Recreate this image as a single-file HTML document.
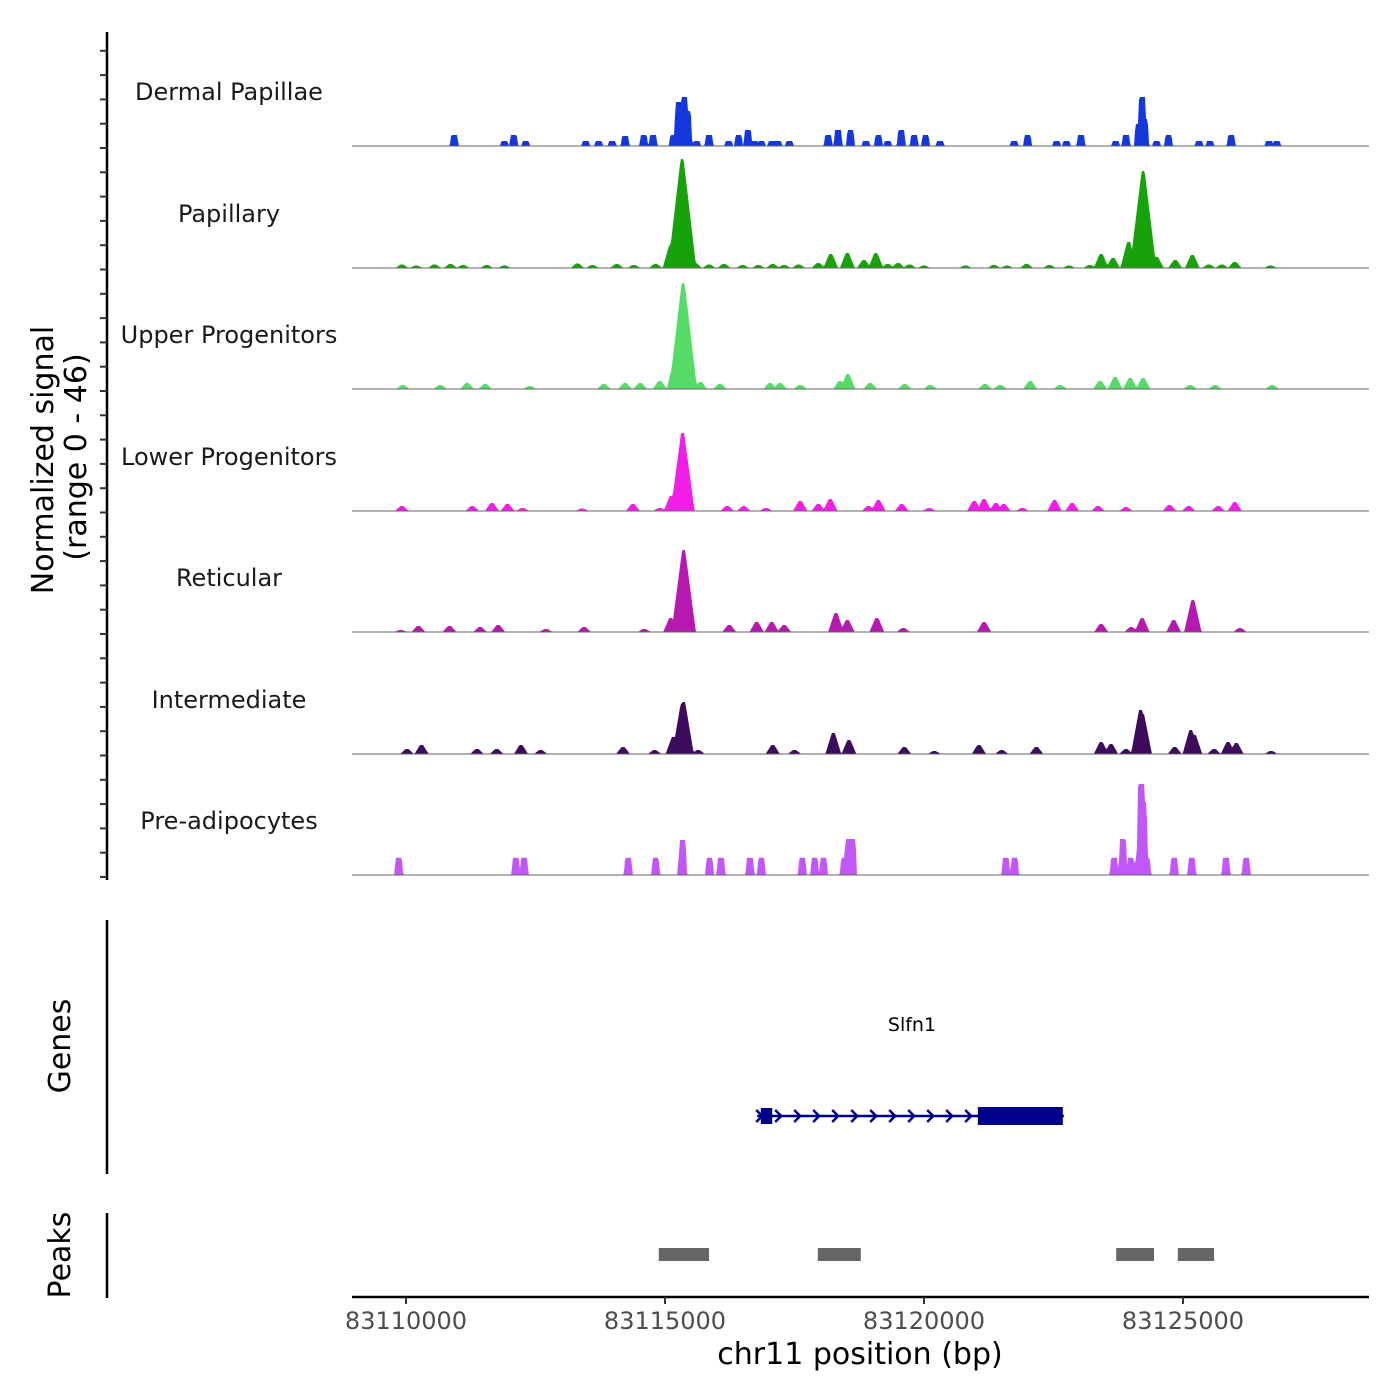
<!DOCTYPE html>
<html><head><meta charset="utf-8"><style>
html,body{margin:0;padding:0;background:#fff}
svg{display:block;font-family:"DejaVu Sans","Liberation Sans",sans-serif}
</style></head><body>
<svg id="chart" width="1400" height="1400" viewBox="0 0 1400 1400" xmlns="http://www.w3.org/2000/svg">
<rect width="1400" height="1400" fill="#fff"/>
<g id="tracks"></g>
<g id="leftaxis"></g>
<text transform="translate(53,460) rotate(-90)" text-anchor="middle" font-size="30" fill="#000">Normalized signal</text>
<text transform="translate(86,457) rotate(-90)" text-anchor="middle" font-size="30" fill="#000">(range 0 - 46)</text>
<line x1="107" y1="920" x2="107" y2="1174" stroke="#000" stroke-width="2.5"/>
<text transform="translate(70,1046) rotate(-90)" text-anchor="middle" font-size="30">Genes</text>
<line x1="107" y1="1213" x2="107" y2="1298" stroke="#000" stroke-width="2.5"/>
<text transform="translate(70,1255) rotate(-90)" text-anchor="middle" font-size="30">Peaks</text>
<g id="genes"></g>
<g id="peaks"></g>
<g id="xaxis"></g>
<text x="860" y="1364" text-anchor="middle" font-size="30" fill="#000">chr11 position (bp)</text>
</svg>
<script>
// ---- data (positions in kb on chr11, signal in normalized units) ----
const trackNames = ["Dermal Papillae","Papillary","Upper Progenitors","Lower Progenitors","Reticular","Intermediate","Pre-adipocytes"];
const dpPos = [83110.93,83111.90,83112.08,83112.31,83113.47,83113.72,83113.98,83114.23,83114.59,83114.77,83115.16,83115.26,83115.32,83115.37,83115.44,83115.61,83115.85,83116.23,83116.42,83116.60,83116.73,83116.86,83117.06,83117.18,83117.40,83118.15,83118.34,83118.58,83118.88,83119.12,83119.30,83119.56,83119.81,83120.03,83120.31,83121.74,83122.00,83122.56,83122.75,83123.03,83123.70,83123.90,83124.14,83124.21,83124.26,83124.49,83124.72,83125.31,83125.52,83125.93,83126.66,83126.81];
const dpVal = [4.4,2,4.4,2,2,2,2,4,4.4,4.4,4.4,17.6,15.2,19.6,14,2,4.4,2,4.4,6.4,2,2,2,2,2,4.4,6.4,6.4,2,4.4,2,6.4,4.4,4.4,2,2,4.4,2,2,4.4,2,4.4,8.8,19.6,10.8,2,4.4,2,2,4.4,2,2];
const paPos = [83109.92,83110.20,83110.55,83110.86,83111.10,83111.56,83111.90,83113.31,83113.60,83114.07,83114.40,83114.82,83115.11,83115.33,83115.58,83115.85,83116.14,83116.50,83116.80,83117.08,83117.30,83117.58,83117.96,83118.20,83118.52,83118.84,83119.07,83119.30,83119.50,83119.72,83120.00,83120.80,83121.35,83121.60,83121.98,83122.42,83122.80,83123.20,83123.42,83123.65,83123.95,83124.23,83124.49,83124.85,83125.18,83125.50,83125.75,83126.00,83126.69];
const paVal = [1.4,1,1.4,1.6,1.2,1.2,1,1.8,1.2,1.6,1.2,1.6,9.2,43.6,2,1.4,1.6,1.2,1.2,1.6,1.2,1.4,2,5.6,6,3.2,6,1.6,2,1.4,1,1,1.2,1,1.6,1.2,1,1.2,5.6,4,10.4,38.8,4.4,3.2,5.2,1.4,1.4,2.4,1];
const upPos = [83109.94,83110.66,83111.18,83111.53,83112.39,83113.82,83114.23,83114.52,83114.90,83115.20,83115.35,83115.68,83116.06,83117.03,83117.22,83117.61,83118.38,83118.53,83118.96,83119.63,83120.12,83121.18,83121.47,83122.05,83122.63,83123.40,83123.69,83123.98,83124.23,83125.14,83125.62,83126.72];
const upVal = [1.6,1.6,2.4,2,1.2,2,2.4,2.4,3.2,12,42.4,2.8,2,2.4,2.4,1.6,3.2,6,2.4,2,1.6,2,1.6,3.2,1.6,3.2,4.8,4.4,4.4,1.6,1.6,1.6];
const loPos = [83109.92,83111.28,83111.66,83111.96,83112.25,83113.40,83114.38,83114.90,83115.12,83115.34,83116.20,83116.52,83116.95,83117.61,83117.96,83118.19,83118.93,83119.12,83119.57,83120.10,83120.97,83121.16,83121.39,83121.54,83121.90,83122.52,83122.86,83123.36,83123.90,83124.74,83125.11,83125.68,83126.00];
const loVal = [2,2,3.2,2.8,1.2,1,2.8,1.2,6,31.2,2,2,1.2,4,2.8,4.8,2,4.4,2.8,1.2,4,4.8,3.2,2.8,1.2,4.4,3.2,2,1.6,2.4,2,2,3.6];
const rePos = [83109.90,83110.24,83110.84,83111.43,83111.78,83112.70,83113.44,83114.60,83115.11,83115.36,83116.24,83116.77,83117.06,83117.30,83118.30,83118.52,83119.09,83119.60,83121.16,83123.42,83124.00,83124.21,83124.82,83125.19,83126.10];
const reVal = [0.8,2.4,2.4,2,2.8,1.2,2,1.2,5.6,32.8,2.8,4,4,2.8,7.6,4.8,5.6,1.6,4,3.2,2,5.6,4.8,12.8,1.6];
const inPos = [83110.02,83110.30,83111.37,83111.75,83112.22,83112.60,83114.19,83114.80,83115.16,83115.33,83115.36,83115.64,83117.08,83117.50,83118.25,83118.55,83119.62,83120.20,83121.06,83121.50,83122.17,83123.42,83123.61,83123.90,83124.18,83124.22,83124.84,83125.15,83125.22,83125.60,83125.87,83126.03,83126.70];
const inVal = [2,3.6,2,2,3.6,1.6,2.8,1.6,6.8,20,20.8,1.6,3.6,1.6,8.4,5.6,2.8,1.2,3.6,1.6,2.8,4.8,4,2,17.6,16,2.8,9.6,7.6,2,4.8,4.4,1.2];
const prPos = [83109.86,83112.12,83112.28,83114.29,83114.82,83115.32,83115.34,83115.86,83116.08,83116.64,83116.86,83117.65,83117.89,83118.06,83118.46,83118.54,83118.62,83121.58,83121.75,83123.67,83123.84,83123.99,83124.14,83124.19,83124.24,83124.30,83124.83,83125.17,83125.83,83126.22];
const prVal = [6.9,6.9,6.9,6.9,6.9,6.9,14,6.9,6.9,6.9,6.9,6.9,6.9,6.9,6.9,14.4,14.4,6.9,6.9,6.9,14.4,6.9,6.9,36.4,29.2,6.9,6.9,6.9,6.9,6.9];
const xTicks = [83110000,83115000,83120000,83125000];
const geneName = "Slfn1";
const geneSpan = [83116.78,83122.70];
const geneExons = [[83116.85,83117.07],[83121.04,83122.68]];
const peakStarts = [83114.88,83117.95,83123.71,83124.90];
const peakEnds = [83115.85,83118.78,83124.44,83125.60];

// ---- scales ----
const NS="http://www.w3.org/2000/svg";
const xk = kb => 406 + (kb-83110)*51.8;
const X0=352, X1=1369, UNIT=2.5;
const baselines=[146,268,389,511,632,754,875];
const colors=["#1438dc","#17a20a","#55dc66","#f21ee8","#b718b0","#3c0b5c","#c157f9"];
const labelY=[92,214,335,457,578,700,821];
const series=[[dpPos,dpVal],[paPos,paVal],[upPos,upVal],[loPos,loVal],[rePos,reVal],[inPos,inVal],[prPos,prVal]];
const blocky=[true,false,false,false,false,false,true];
function mk(tag,attrs,parent){const e=document.createElementNS(NS,tag);for(const k in attrs)e.setAttribute(k,attrs[k]);parent.appendChild(e);return e;}
const tg=document.getElementById('tracks');
series.forEach((s,i)=>{
  const [pos,val]=s;const base=baselines[i];
  const prof=new Float32Array(X1-X0+1);
  for(let j=0;j<pos.length;j++){
    const cx=xk(pos[j]);const h=val[j]*UNIT;
    const flat=blocky[i]?3:1.5;const slope=blocky[i]?1.5:(5+h*0.07);
    for(let px=Math.floor(cx-flat-slope);px<=Math.ceil(cx+flat+slope);px++){
      const d=Math.abs(px-cx);let v=d<=flat?h:h*(1-(d-flat)/slope);
      if(v<0)v=0;const k=px-X0;if(k>=0&&k<prof.length&&v>prof[k])prof[k]=v;
    }
  }
  let d=`M${X0},${base}`;
  for(let k=0;k<prof.length;k++)d+=`L${X0+k},${(base-prof[k]).toFixed(1)}`;
  d+=`L${X1},${base}Z`;
  const p=mk('path',{d:d,fill:colors[i]},tg);
  
  
  const bl=mk('line',{x1:X0,x2:X1,y1:base,y2:base,stroke:'#666','stroke-width':1},tg);
  
  
  const t=mk('text',{x:229,y:labelY[i]+8,'text-anchor':'middle','font-size':24,fill:'#1a1a1a'},tg);
  t.textContent=trackNames[i];
  
  
});
// left axis
const la=document.getElementById('leftaxis');
const axl=mk('line',{x1:107,x2:107,y1:32,y2:880,stroke:'#000','stroke-width':2.5},la);


for(let y=877;y>45;y-=24.3){
  const tk=mk('line',{x1:100,x2:107,y1:y.toFixed(1),y2:y.toFixed(1),stroke:'#333','stroke-width':2},la);
  
  
}
// genes
const gg=document.getElementById('genes');const gy=1116;
const gl=mk('line',{x1:xk(geneSpan[0]),x2:xk(geneSpan[1]),y1:gy,y2:gy,stroke:'#00008b','stroke-width':2.5},gg);


for(let x=xk(geneSpan[0])+2;x<xk(geneExons[1][0]);x+=19){
  const ch=mk('path',{d:`M${x-3},${gy-6}L${x+3},${gy}L${x-3},${gy+6}`,fill:'none',stroke:'#00008b','stroke-width':2.5},gg);
  
  
}
geneExons.forEach((e,i)=>{
  const r=mk('rect',{x:xk(e[0]),y:i==0?gy-8:gy-9,width:xk(e[1])-xk(e[0]),height:i==0?16:18,fill:'#00008b'},gg);
  
  
});
const gt=mk('text',{x:912,y:1031,'text-anchor':'middle','font-size':19,fill:'#000'},gg);
gt.textContent=geneName;


// peaks
const pg=document.getElementById('peaks');
peakStarts.forEach((s,i)=>{
  const r=mk('rect',{x:xk(s),y:1248,width:xk(peakEnds[i])-xk(s),height:13,fill:'#666'},pg);
  
  
});
// x axis
const xa=document.getElementById('xaxis');
const xl=mk('line',{x1:X0,x2:X1,y1:1297,y2:1297,stroke:'#000','stroke-width':2.5},xa);


xTicks.forEach(v=>{
  const x=xk(v/1000);
  const tk=mk('line',{x1:x,x2:x,y1:1297,y2:1304,stroke:'#333','stroke-width':2},xa);
  
  
  const t=mk('text',{x:x,y:1329,'text-anchor':'middle','font-size':24,fill:'#4d4d4d'},xa);
  t.textContent=String(v);
  
  
});
</script>
</body></html>
